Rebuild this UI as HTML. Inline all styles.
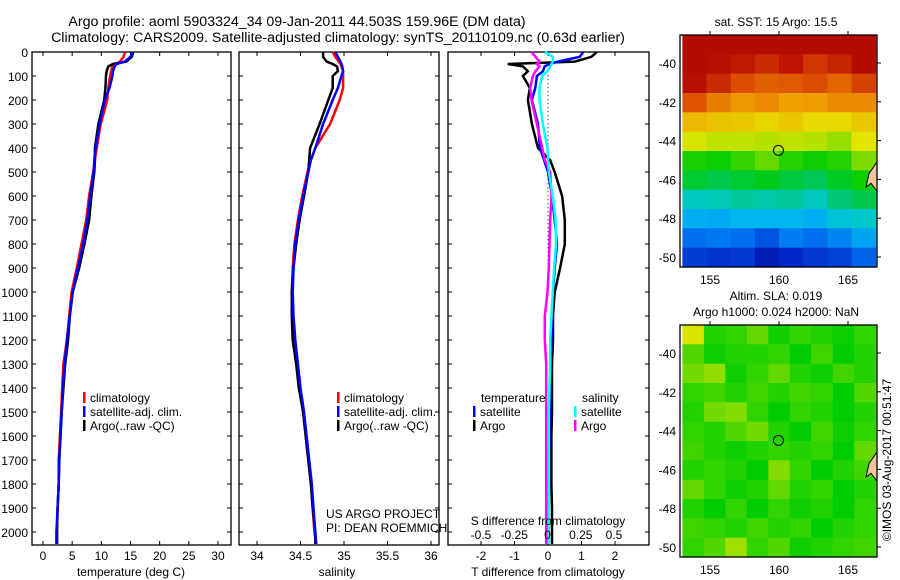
<!DOCTYPE html>
<html><head><meta charset="utf-8"><style>
body{margin:0;background:#fff}
svg{display:block;font-family:"Liberation Sans",sans-serif}
text{fill:#000}
</style></head><body>
<svg id="c" width="900" height="580" viewBox="0 0 900 580">
<g>
<text x="297" y="26" font-size="14.2" text-anchor="middle">Argo profile: aoml 5903324_34 09-Jan-2011 44.503S 159.96E (DM data)</text>
<text x="338" y="42" font-size="14.2" text-anchor="middle">Climatology: CARS2009. Satellite-adjusted climatology: synTS_20110109.nc (0.63d earlier)</text>
<text x="776" y="26" font-size="12" text-anchor="middle">sat. SST: 15 Argo: 15.5</text>
<text x="776" y="300" font-size="12" text-anchor="middle">Altim. SLA: 0.019</text>
<text x="776" y="316" font-size="12" text-anchor="middle">Argo h1000: 0.024 h2000: NaN</text>
<text transform="translate(891,460) rotate(-90)" font-size="12" text-anchor="middle">©IMOS 03-Aug-2017 00:51:47</text>
</g>
<g id="g"></g>
</svg>
<script>
// ---- data ----
const depths=[0,20,40,50,60,80,100,150,200,300,400,450,500,600,700,800,900,1000,1100,1200,1300,1400,1500,1600,1700,1800,1900,2000,2050];
const tClim=[14.1,13.8,13.2,12.4,11.9,11.7,11.5,11.2,11.0,9.9,9.2,8.9,8.6,7.9,7.4,6.6,5.8,4.9,4.5,4.1,3.5,3.3,3.1,2.9,2.7,2.7,2.5,2.4,2.4];
const tSat=[15.4,15.0,14.0,12.6,12.3,12.0,11.9,11.4,10.6,9.7,9.0,8.8,8.7,8.1,7.6,6.9,6.0,5.1,4.6,4.1,3.7,3.4,3.2,3.0,2.8,2.7,2.5,2.3,2.3];
const tArgo=[15.5,15.2,14.3,12.0,11.2,10.9,10.8,10.7,10.5,9.5,8.9,8.9,8.8,8.3,7.9,7.1,6.2,5.1,4.6,4.3,3.8,3.5,3.2,3.0,2.8,2.7,2.5,2.4,2.4];
const sClim=[34.87,34.9,34.94,34.96,34.97,34.99,34.99,34.99,34.95,34.84,34.67,34.62,34.58,34.52,34.47,34.43,34.41,34.40,34.41,34.43,34.46,34.49,34.53,34.56,34.59,34.62,34.64,34.66,34.68];
const sSat=[34.9,34.93,34.96,34.97,34.98,34.99,34.97,34.93,34.87,34.76,34.67,34.62,34.59,34.53,34.48,34.44,34.42,34.41,34.42,34.44,34.47,34.50,34.54,34.57,34.60,34.63,34.65,34.67,34.68];
const sArgo=[34.76,34.76,34.8,34.87,34.92,34.93,34.87,34.87,34.82,34.72,34.61,34.6,34.59,34.54,34.49,34.45,34.42,34.40,34.40,34.41,34.45,34.48,34.53,34.56,34.59,34.62,34.64,34.67,34.67];
const dTsat=[1.05,0.95,0.3,0.05,-0.1,-0.15,-0.33,-0.38,-0.48,-0.3,-0.24,-0.12,0.0,0.12,0.2,0.27,0.2,0.15,0.12,0.1,0.08,0.06,0.05,0.04,0.03,0.03,0.02,0.02,0.02];
const dTargo=[1.46,1.3,0.8,-1.2,-0.75,-0.6,-0.75,-0.54,-0.6,-0.48,-0.3,0.06,0.2,0.42,0.5,0.5,0.36,0.2,0.15,0.15,0.12,0.12,0.12,0.1,0.1,0.1,0.12,0.12,0.12];
const dSsat=[-0.02,0.04,0.04,0.03,0.02,0.0,-0.04,-0.06,-0.06,-0.035,0.0,0.005,0.01,0.04,0.06,0.065,0.05,0.04,0.03,0.02,0.02,0.015,0.01,0.01,0.01,0.01,0.01,0.01,0.01];
const dSargo=[-0.12,-0.09,-0.06,-0.08,-0.06,-0.09,-0.11,-0.13,-0.12,-0.08,-0.04,-0.02,0.02,0.03,0.02,0.015,0.01,0.0,-0.02,-0.02,-0.01,-0.01,-0.01,-0.01,-0.01,-0.01,-0.01,-0.01,-0.01];
const depthTicks=[0,100,200,300,400,500,600,700,800,900,1000,1100,1200,1300,1400,1500,1600,1700,1800,1900,2000];
const tTicks=[0,5,10,15,20,25,30];
const sTicks=[34,34.5,35,35.5,36];
const dTTicks=[-2,-1,0,1,2];
const dSTicks=[-0.5,-0.25,0,0.25,0.5];
const dSTickLabels=["-0.5","-0.25","0","0.25","0.5"];
const latTicks=[-40,-42,-44,-46,-48,-50];
const lonTicks=[155,160,165];
const argoLon=159.96, argoLat=-44.503;
// SST grid rows (north to south), cols lon 153..167
const sstGrid=[
[20,20,20,20,20,20,20,20],
[20,19.8,19.5,19.2,19.6,19,19.3,20],
[19.8,19.2,18.6,18.3,18.4,18.6,18.2,18.8],
[18.5,17.8,17.4,17.6,17.2,17.3,17.6,17.6],
[16.8,16.6,16.5,16.3,16.5,16.2,16.2,16.5],
[15.8,15.6,15.6,15.5,15.6,15.5,15.2,15.9],
[14.2,14.1,14.4,14.8,14.3,14.1,14.3,15],
[13.6,13.4,13.6,13.8,13.5,13.3,13.7,14.1],
[12.4,12.5,12.7,12.6,12.7,12.4,13,13.4],
[11.3,11.2,11.5,11.5,11.5,11.3,12,12.3],
[10.1,10.3,10.1,9.6,10.4,10.1,10.5,11.1],
[9.2,9.0,9.1,8.4,8.8,9.1,9.3,9.9]];
// SLA grid (normalised colour index) rows north->south
const slaGrid=[
[0.64,0.52,0.53,0.56,0.51,0.53,0.52,0.51,0.53],
[0.55,0.51,0.52,0.52,0.53,0.5,0.54,0.5,0.52],
[0.57,0.59,0.51,0.53,0.56,0.52,0.51,0.54,0.52],
[0.53,0.54,0.52,0.54,0.52,0.54,0.53,0.5,0.55],
[0.52,0.57,0.58,0.53,0.5,0.53,0.52,0.5,0.52],
[0.53,0.52,0.55,0.57,0.52,0.5,0.54,0.51,0.53],
[0.54,0.52,0.51,0.52,0.53,0.52,0.53,0.5,0.56],
[0.52,0.53,0.52,0.5,0.58,0.53,0.5,0.52,0.54],
[0.56,0.53,0.51,0.52,0.56,0.52,0.53,0.5,0.52],
[0.52,0.5,0.53,0.5,0.53,0.51,0.52,0.5,0.53],
[0.54,0.53,0.52,0.54,0.52,0.53,0.5,0.52,0.53],
[0.53,0.55,0.6,0.53,0.55,0.51,0.52,0.53,0.54]];

const NS='http://www.w3.org/2000/svg';
const G=document.getElementById('g');
function mk(tag,at,parent){const e=document.createElementNS(NS,tag);for(const k in at)e.setAttribute(k,at[k]);(parent||G).appendChild(e);return e;}
const yD=d=>52+d*0.24;
const PT=52,PB=545;
function panel(x0,x1,name){
  const g=mk('g',{});
  
  
  const r=mk('rect',{x:x0,y:PT,width:x1-x0,height:PB-PT,fill:'none',stroke:'#000','stroke-width':1.3},g);
  
  
  depthTicks.forEach(d=>{mk('line',{x1:x0,x2:x0+4,y1:yD(d),y2:yD(d),stroke:'#000'},g);mk('line',{x1:x1-4,x2:x1,y1:yD(d),y2:yD(d),stroke:'#000'},g);});
  return g;
}
function line(g,vals,fx,col,w,name){
  let p=[];
  depths.forEach((d,i)=>{p.push(fx(vals[i]).toFixed(1)+','+yD(d).toFixed(1));});
  const e=mk('polyline',{points:p.join(' '),fill:'none',stroke:col,'stroke-width':w,'stroke-linejoin':'miter'},g);
  
  
}
function txt(g,x,y,s,size,anchor,name){const t=mk('text',{x:x,y:y,'font-size':size,'text-anchor':anchor||'start'},g);t.textContent=s;return t;}
function legend(g,x,y,items,name){
  items.forEach((it,i)=>{
    const m=mk('rect',{x:x,y:y+i*14-10,width:2.5,height:11,fill:it[1]},g);
    
    
    txt(g,x+7,y+i*14,it[0],12,'start',name+'-label');
  });
}
// panel 1 temperature
const xT=v=>43+v*5.833;
const p1=panel(32,231,'temperature-panel');
depthTicks.forEach(d=>txt(p1,28,yD(d)+5,String(d),12,'end','depth-tick-label'));
tTicks.forEach(v=>{mk('line',{x1:xT(v),x2:xT(v),y1:PB,y2:PB-4,stroke:'#000'},p1);mk('line',{x1:xT(v),x2:xT(v),y1:PT,y2:PT+4,stroke:'#000'},p1);txt(p1,xT(v),560,String(v),12,'middle','temp-tick-label');});
txt(p1,131,576,'temperature (deg C)',12,'middle','temp-axis-title');
line(p1,tClim,xT,'#f00',2.5,'temp-climatology-line');
line(p1,tArgo,xT,'#000',2.5,'temp-argo-line');
line(p1,tSat,xT,'#00f',2.5,'temp-satellite-line');
legend(p1,83,402,[['climatology','#f00'],['satellite-adj. clim.','#00f'],['Argo(..raw -QC)','#000']],'temp-legend');
// panel 2 salinity
const xS=v=>257+(v-34)*87;
const p2=panel(239,439,'salinity-panel');
sTicks.forEach(v=>{mk('line',{x1:xS(v),x2:xS(v),y1:PB,y2:PB-4,stroke:'#000'},p2);mk('line',{x1:xS(v),x2:xS(v),y1:PT,y2:PT+4,stroke:'#000'},p2);txt(p2,xS(v),560,String(v),12,'middle','sal-tick-label');});
txt(p2,337,576,'salinity',12,'middle','sal-axis-title');
line(p2,sClim,xS,'#f00',2.5,'sal-climatology-line');
line(p2,sArgo,xS,'#000',2.5,'sal-argo-line');
line(p2,sSat,xS,'#00f',2.5,'sal-satellite-line');
legend(p2,337,402,[['climatology','#f00'],['satellite-adj. clim.','#00f'],['Argo(..raw -QC)','#000']],'sal-legend');
txt(p2,326,518,'US ARGO PROJECT',12,'start','project-credit');
txt(p2,326,532,'PI: DEAN ROEMMICH',12,'start','pi-credit');
// panel 3 differences
const xDT=v=>548+v*33.5;
const xDS=v=>547.5+v*133;
const p3=panel(448,649,'difference-panel');
dTTicks.forEach(v=>{mk('line',{x1:xDT(v),x2:xDT(v),y1:PB,y2:PB-4,stroke:'#000'},p3);mk('line',{x1:xDT(v),x2:xDT(v),y1:PT,y2:PT+4,stroke:'#000'},p3);txt(p3,xDT(v),560,String(v),12,'middle','dt-tick-label');});
mk('line',{x1:xDT(0),x2:xDT(0),y1:yD(80),y2:yD(1000),stroke:'#000','stroke-dasharray':'1,3'},p3);
line(p3,dTargo,xDT,'#000',2.5,'dt-argo-line');
line(p3,dTsat,xDT,'#00f',2.5,'dt-satellite-line');
line(p3,dSargo,xDS,'#f0f',2.5,'ds-argo-line');
line(p3,dSsat,xDS,'#0ff',2.5,'ds-satellite-line');
dSTicks.forEach((v,i)=>txt(p3,xDS(v),539,dSTickLabels[i],12,'middle','ds-tick-label'));
txt(p3,548,525,'S difference from climatology',12,'middle','ds-axis-title');
txt(p3,548,576,'T difference from climatology',12,'middle','dt-axis-title');
txt(p3,481,402,'temperature',12,'start','diff-legend-temp-header');
txt(p3,582,402,'salinity',12,'start','diff-legend-sal-header');
legend(p3,473,416,[['satellite','#00f'],['Argo','#000']],'diff-legend-temp');
legend(p3,574,416,[['satellite','#0ff'],['Argo','#f0f']],'diff-legend-sal');
// colormap
const cmStops=[[0,[0,0,130]],[0.1,[0,40,200]],[0.2,[0,110,240]],[0.3,[0,180,240]],[0.37,[0,200,200]],[0.45,[0,200,80]],[0.5,[0,205,0]],[0.58,[130,220,0]],[0.65,[230,230,0]],[0.75,[240,160,0]],[0.85,[220,80,0]],[0.93,[190,20,0]],[1,[170,0,0]]];
function cmap(t){t=Math.max(0,Math.min(1,t));
  for(let i=1;i<cmStops.length;i++){if(t<=cmStops[i][0]){const a=cmStops[i-1],b=cmStops[i],f=(t-a[0])/(b[0]-a[0]);
    return 'rgb('+a[1].map((c,k)=>Math.round(c+(b[1][k]-c)*f)).join(',')+')';}}
  return 'rgb(170,0,0)';}
function map(y0,lat40y,grid,cf,name){
  const X0=680,X1=877,Y0=y0,Y1=y0+232;
  const xL=lon=>710+(lon-155)*13.8;
  const yL=lat=>lat40y+(-40-lat)*19.4;
  const g=mk('g',{});
  
  
  const rows=grid.length,cols=grid[0].length;
  const latTop=-40+(lat40y-Y0)/19.4, latBot=-40-(Y1-lat40y)/19.4;
  const dLat=(latTop-latBot)/rows, dLon=14/cols;
  grid.forEach((row,i)=>row.forEach((v,j)=>{
    const x=xL(153+j*dLon), y=yL(latTop-i*dLat);
    const c=mk('rect',{x:x.toFixed(1),y:y.toFixed(1),width:(dLon*13.8+0.6).toFixed(1),height:(dLat*19.4+0.6).toFixed(1),fill:cmap(cf(v))},g);
    
    
  }));
  const land=mk('path',{d:`M${X1} ${yL(-45.1)} L${X1-8} ${yL(-45.7)} L${X1-11} ${yL(-46.4)} L${X1-6} ${yL(-46.2)} L${X1} ${yL(-46.6)} Z`,fill:'#f4c49c',stroke:'#000','stroke-width':1},g);
  
  
  const fr=mk('rect',{x:X0,y:Y0,width:X1-X0,height:Y1-Y0,fill:'none',stroke:'#000','stroke-width':1.3},g);
  
  
  latTicks.forEach(l=>{mk('line',{x1:X1,x2:X1+4,y1:yL(l),y2:yL(l),stroke:'#000'},g);txt(g,676,yL(l)+5,String(l),12,'end',name+'-lat-label');});
  lonTicks.forEach(l=>{mk('line',{x1:xL(l),x2:xL(l),y1:Y0,y2:Y0-4,stroke:'#000'},g);txt(g,xL(l),Y1+17,String(l),12,'middle',name+'-lon-label');});
  const ci=mk('circle',{cx:xL(argoLon),cy:yL(argoLat),r:5,fill:'none',stroke:'#000','stroke-width':1},g);
  
  
}
map(35,63,sstGrid,v=>(v-7.5)/13,'sst-map');
map(325,353,slaGrid,v=>v,'sla-map');
</script>
</body></html>
